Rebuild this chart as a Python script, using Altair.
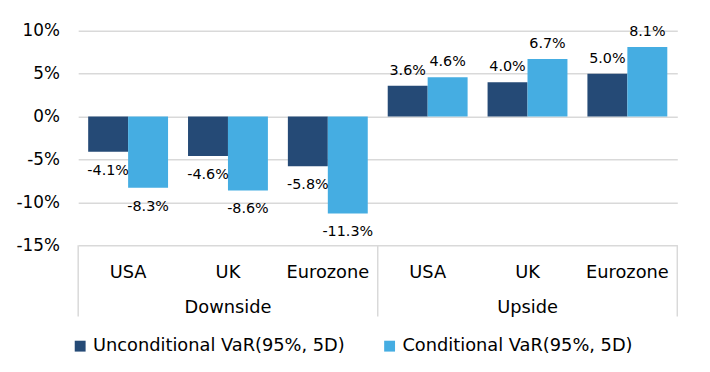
import altair as alt
import pandas as pd

groups = ["Downside", "Downside", "Downside", "Upside", "Upside", "Upside"]
countries = ["USA", "UK", "Eurozone", "USA", "UK", "Eurozone"]
unconditional = [-4.1, -4.6, -5.8, 3.6, 4.0, 5.0]
conditional = [-8.3, -8.6, -11.3, 4.6, 6.7, 8.1]
series_names = ["Unconditional VaR(95%, 5D)", "Conditional VaR(95%, 5D)"]
colors = ["#254a76", "#45ade2"]
y_ticks = [-0.15, -0.10, -0.05, 0.0, 0.05, 0.10]

keys = [g + "|" + c for g, c in zip(groups, countries)]
rows = []
for k, g, c, u, v in zip(keys, groups, countries, unconditional, conditional):
    rows.append({"key": k, "series": series_names[0], "value": u / 100})
    rows.append({"key": k, "series": series_names[1], "value": v / 100})
df = pd.DataFrame(rows)

W, H = 606, 217
FONT = "DejaVu Sans"

x_enc = alt.X("key:N", sort=keys, title=None,
              scale=alt.Scale(paddingInner=0, paddingOuter=0),
              axis=alt.Axis(labelExpr="split(datum.label, '|')[1]", ticks=False, domain=False,
                            labelAngle=0, labelFontSize=18, labelFont=FONT, labelColor="#000000",
                            labelPadding=19, grid=False))
xo_enc = alt.XOffset("series:N", sort=series_names,
                     scale=alt.Scale(paddingOuter=0.25, paddingInner=0))
y_enc = alt.Y("value:Q", title=None,
              scale=alt.Scale(domain=[-0.15, 0.10], nice=False, zero=True),
              axis=alt.Axis(values=y_ticks, format=".0%",
                            labelExpr="replace(datum.label, '\u2212', '-')",
                            domain=False, ticks=False,
                            gridColor="#d9d9d9", gridWidth=1.5, labelFontSize=17,
                            labelFont=FONT, labelColor="#000000", labelPadding=19))

base = alt.Chart(df).transform_calculate(
    lbl="replace(format(datum.value, '.1%'), '\u2212', '-')"
)

bars = alt.Chart(df).mark_bar().encode(
    x=x_enc, xOffset=xo_enc, y=y_enc,
    color=alt.Color("series:N", sort=series_names,
                    scale=alt.Scale(domain=series_names, range=colors),
                    legend=alt.Legend(orient="none", direction="horizontal", columns=2,
                                      legendX=-7, legendY=310, title=None,
                                      symbolType="square", symbolSize=121,
                                      symbolStrokeWidth=0, labelFontSize=18,
                                      labelFont=FONT, labelColor="#000000",
                                      labelOffset=4, columnPadding=36, padding=0,
                                      labelLimit=400)),
)

lab_pos = base.transform_filter("datum.value >= 0").mark_text(
    baseline="bottom", dy=-8, fontSize=14.5, font=FONT, color="#000000"
).encode(x=alt.X("key:N", sort=keys), xOffset=alt.XOffset("series:N", sort=series_names),
         y="value:Q", text="lbl:N")

lab_neg = base.transform_filter("datum.value < 0").mark_text(
    baseline="top", dy=12, fontSize=14.5, font=FONT, color="#000000"
).encode(x=alt.X("key:N", sort=keys), xOffset=alt.XOffset("series:N", sort=series_names),
         y="value:Q", text="lbl:N")

sep_left = pd.DataFrame({"key": [keys[0], keys[3]]})
sep_right = pd.DataFrame({"key": [keys[5]]})

rule_l = alt.Chart(sep_left).mark_rule(color="#d9d9d9", strokeWidth=1.5).encode(
    x=alt.X("key:N", sort=keys, bandPosition=0), y=alt.value(H), y2=alt.value(H + 72))
rule_r = alt.Chart(sep_right).mark_rule(color="#d9d9d9", strokeWidth=1.5).encode(
    x=alt.X("key:N", sort=keys, bandPosition=1), y=alt.value(H), y2=alt.value(H + 72))

grp_df = pd.DataFrame({"key": [keys[1], keys[4]], "group": [groups[0], groups[3]]})
grp_text = alt.Chart(grp_df).mark_text(
    baseline="alphabetic", dy=0, fontSize=18, font=FONT, color="#000000"
).encode(x=alt.X("key:N", sort=keys), y=alt.value(H + 68), text="group:N")

chart = alt.layer(bars, lab_pos, lab_neg, rule_l, rule_r, grp_text).properties(
    width=W, height=H,
    autosize=alt.AutoSizeParams(type="none"),
    padding={"left": 71, "top": 21, "right": 25, "bottom": 118},
).configure_view(strokeWidth=0)

chart.save("out.html", embed_options={"renderer": "svg", "actions": False})
